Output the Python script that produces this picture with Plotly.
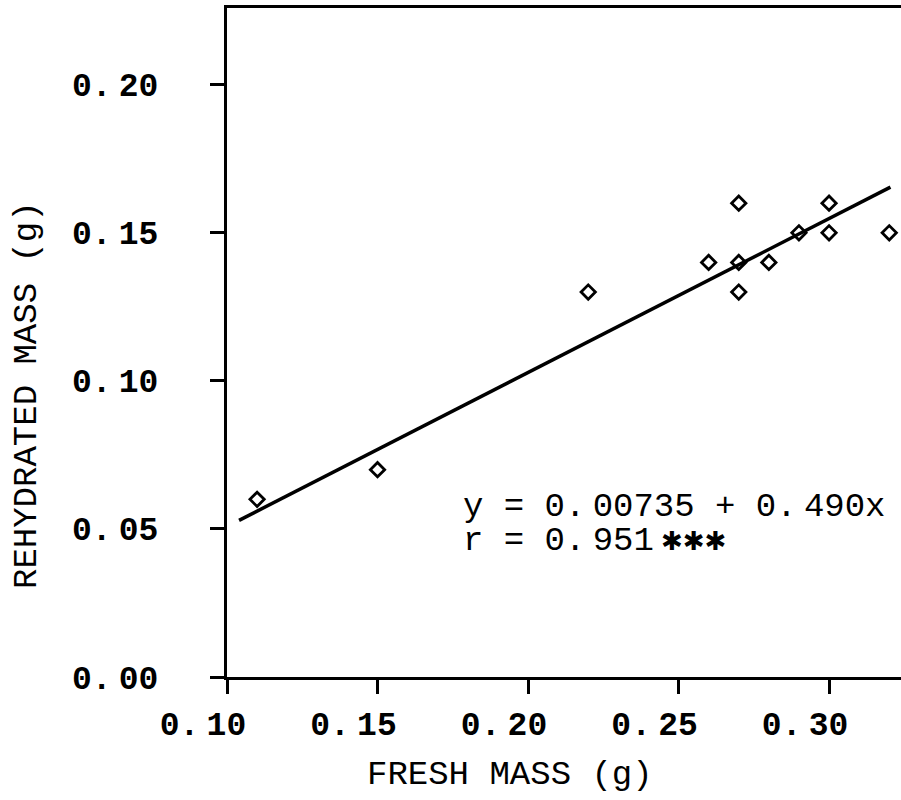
import plotly.graph_objects as go

# ---- data ----
fresh_mass = [0.11, 0.15, 0.22, 0.26, 0.27, 0.27, 0.27, 0.28, 0.29, 0.30, 0.30, 0.32]
rehydrated_mass = [0.06, 0.07, 0.13, 0.14, 0.16, 0.14, 0.13, 0.14, 0.15, 0.16, 0.15, 0.15]
# fitted line end points as drawn
fit_x = [0.104, 0.3204]
fit_y = [0.0529, 0.1654]
x_tick_vals = [0.10, 0.15, 0.20, 0.25, 0.30]
y_tick_vals = [0.00, 0.05, 0.10, 0.15, 0.20]
equation_text = ["y = 0.", "00735 + 0.", "490x"]
r_text = ["r = 0.", "951"]

GAP = "<span style='font-size:12px'> </span>"
FONT = "Liberation Mono"

def tick_label(v):
    s = f"{v:.2f}"
    a, b = s.split(".")
    return a + "." + GAP + b

L, R, T, B = 227, 0, 8, 123
W, H = 901, 800
pw, ph = W - L - R, H - T - B

def px(xp):
    return (xp - L) / pw

def py(yp):
    return (H - B - yp) / ph

fig = go.Figure()
fig.add_trace(go.Scatter(x=fit_x, y=fit_y, mode="lines",
                         line=dict(color="black", width=3.5), showlegend=False))
fig.add_trace(go.Scatter(x=fresh_mass, y=rehydrated_mass, mode="markers",
                         marker=dict(symbol="diamond-open", size=11, color="black",
                                     line=dict(width=2.8, color="black")),
                         showlegend=False))

axis_common = dict(showline=True, linecolor="black", linewidth=3, ticks="outside",
                   ticklen=14, tickwidth=2.5, tickcolor="black", showgrid=False,
                   zeroline=False,
                   tickfont=dict(family=FONT, size=33, color="black", weight="bold"))

fig.update_xaxes(range=[0.10, 0.3239], tickvals=x_tick_vals,
                 ticktext=[tick_label(v) for v in x_tick_vals], mirror=True,
                 ticklabelshift=-24, ticklabelstandoff=1, **axis_common)
fig.update_yaxes(range=[0.0, 0.2259], tickvals=y_tick_vals,
                 ticktext=[tick_label(v) for v in y_tick_vals],
                 ticklabelstandoff=45, **axis_common)

fig.add_annotation(xref="paper", yref="paper", x=px(510), y=py(775),
                   text="FRESH MASS (g)", showarrow=False, xanchor="center", yanchor="middle",
                   font=dict(family=FONT, size=34, color="black"))
fig.add_annotation(xref="paper", yref="paper", x=px(27), y=py(395),
                   text="REHYDRATED MASS (g)", showarrow=False, textangle=-90,
                   xanchor="center", yanchor="middle",
                   font=dict(family=FONT, size=34, color="black"))

eq = equation_text[0] + GAP + equation_text[1] + GAP + equation_text[2]
fig.add_annotation(xref="paper", yref="paper", x=px(461), y=py(507),
                   text=eq, showarrow=False, xanchor="left", yanchor="middle",
                   font=dict(family=FONT, size=34, color="black"))
stars = "<span style='font-family:DejaVu Sans;font-size:26px'>✱✱✱</span>"
fig.add_annotation(xref="paper", yref="paper", x=px(461), y=py(541),
                   text=r_text[0] + GAP + r_text[1] + GAP + stars, showarrow=False,
                   xanchor="left", yanchor="middle",
                   font=dict(family=FONT, size=34, color="black"))

fig.update_layout(width=W, height=H, margin=dict(l=L, r=R, t=T, b=B),
                  plot_bgcolor="white", paper_bgcolor="white",
                  font=dict(family=FONT, color="black"))

fig.write_html("out.html")
